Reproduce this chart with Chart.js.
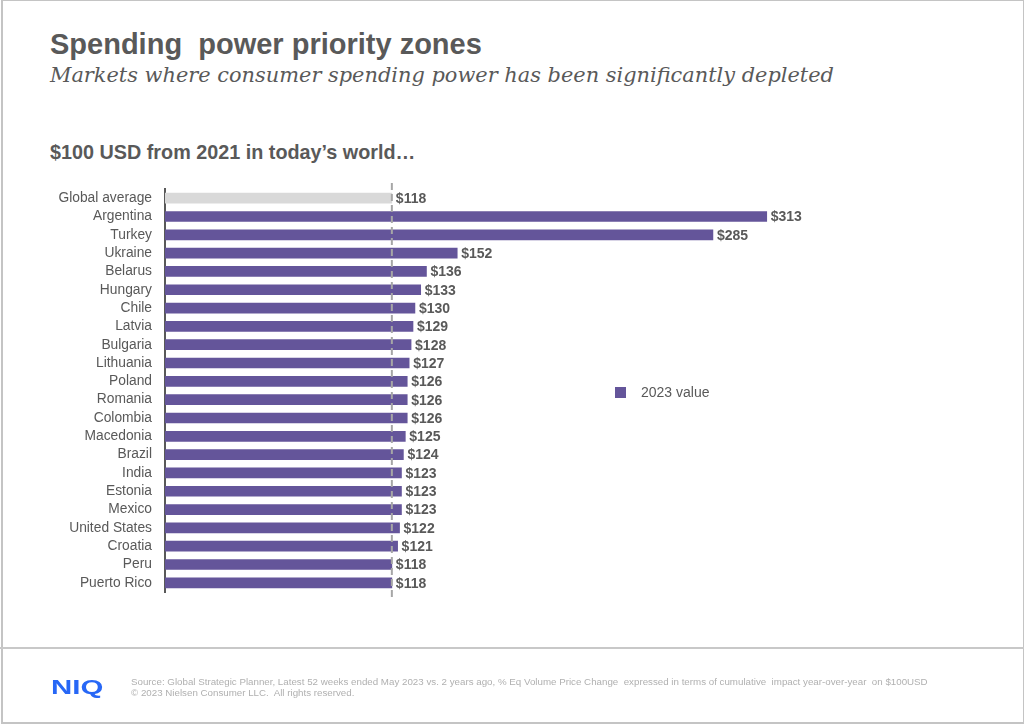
<!DOCTYPE html>
<html>
<head>
<meta charset="utf-8">
<script src="https://cdn.jsdelivr.net/npm/chart.js@4.4.0/dist/chart.umd.min.js"></script>
<style>
  body { margin: 0; background: #fff; }
  #page { position: relative; width: 1024px; height: 724px; overflow: hidden; font-family: "Liberation Sans", Arial, sans-serif; color: #595959; }
  #frame { position: absolute; left: 1px; top: 0; width: 1020px; height: 721px; border: 1px solid #c4c4c4; border-width: 1px 2px 2px 2px; }
  #sep { position: absolute; left: 0; top: 647px; width: 1024px; height: 2px; background: #c8c8c8; }
  .txt { position: absolute; white-space: pre; line-height: 1; }
  #title { left: 50px; top: 30px; font-size: 29px; font-weight: bold; }
  #subtitle { left: 50px; top: 65px; font-size: 20.9px; font-style: italic; font-family: "DejaVu Serif", Georgia, serif; }
  #heading { left: 50px; top: 143px; font-size: 19.8px; font-weight: bold; }
  #legend { position: absolute; left: 615px; top: 385px; font-size: 14px; line-height: 14px; }
  #legend span.box { display: inline-block; width: 11px; height: 11px; vertical-align: -1px; margin-right: 15px; }
  #logo { left: 51px; top: 676px; font-size: 21px; font-weight: bold; color: #2767f6; transform: scaleX(1.4); transform-origin: 0 0; }
  #source { left: 131px; top: 676px; font-size: 9.75px; line-height: 11px; color: #b0b0b0; }
  #c { position: absolute; left: 0; top: 0; }
</style>
</head>
<body>
<div id="page">
  <div id="frame"></div>
  <div id="sep"></div>
  <div class="txt" id="title">Spending  power priority zones</div>
  <div class="txt" id="subtitle">Markets where consumer spending power has been significantly depleted</div>
  <div class="txt" id="heading">$100 USD from 2021 in today’s world…</div>
  <canvas id="c" width="1024" height="724"></canvas>
  <div id="legend"></div>
  <div class="txt" id="logo">NIQ</div>
  <div class="txt" id="source">Source: Global Strategic Planner, Latest 52 weeks ended May 2023 vs. 2 years ago, % Eq Volume Price Change  expressed in terms of cumulative  impact year-over-year  on $100USD
© 2023 Nielsen Consumer LLC.  All rights reserved.</div>
</div>
<script>
// data
var markets = ['Global average', 'Argentina', 'Turkey', 'Ukraine', 'Belarus', 'Hungary', 'Chile', 'Latvia',
  'Bulgaria', 'Lithuania', 'Poland', 'Romania', 'Colombia', 'Macedonia', 'Brazil', 'India', 'Estonia',
  'Mexico', 'United States', 'Croatia', 'Peru', 'Puerto Rico'];
var values2023 = [118, 313, 285, 152, 136, 133, 130, 129, 128, 127, 126, 126, 126, 125, 124, 123, 123, 123, 122, 121, 118, 118];
var globalAvg = 118;
var seriesName = '2023 value';

var purple = '#64559a';
var avgGrey = '#d9d9d9';
var barColors = markets.map(function(m) { return m === 'Global average' ? avgGrey : purple; });

// dashed average line, drawn over the bars
var avgLine = {
  id: 'avgLine',
  afterDatasetsDraw: function(chart) {
    var ctx = chart.ctx;
    var x = chart.scales.x.getPixelForValue(globalAvg);
    ctx.save();
    ctx.strokeStyle = '#a6a6a6';
    ctx.lineWidth = 2;
    ctx.setLineDash([7, 4]);
    ctx.beginPath();
    ctx.moveTo(x, chart.chartArea.top - 6);
    ctx.lineTo(x, chart.chartArea.bottom + 5);
    ctx.stroke();
    ctx.restore();
  }
};

// "$nnn" labels at bar ends
var valueLabels = {
  id: 'valueLabels',
  afterDraw: function(chart) {
    var ctx = chart.ctx;
    var meta = chart.getDatasetMeta(0);
    ctx.save();
    ctx.font = 'bold 14px "Liberation Sans", Arial, sans-serif';
    ctx.fillStyle = '#595959';
    ctx.textBaseline = 'middle';
    meta.data.forEach(function(bar, i) {
      ctx.fillText('$' + values2023[i], bar.x + 4, bar.y + 1);
    });
    ctx.restore();
  }
};

var myChart = new Chart(document.getElementById('c').getContext('2d'), {
  type: 'bar',
  data: {
    labels: markets,
    datasets: [{
      label: seriesName,
      data: values2023,
      backgroundColor: barColors,
      barThickness: 10
    }]
  },
  options: {
    indexAxis: 'y',
    responsive: false,
    animation: false,
    layout: { padding: { top: 189, bottom: 132, left: 0, right: 90 } },
    scales: {
      x: { display: false, min: 0, max: 400 },
      y: {
        afterFit: function(scale) { scale.width = 165; },
        grid: { display: false, drawTicks: false },
        border: { display: true, color: '#595959', width: 2 },
        ticks: {
          autoSkip: false,
          padding: 13,
          color: '#595959',
          font: { family: '"Liberation Sans", Arial, sans-serif', size: 13.8 }
        }
      }
    },
    plugins: {
      legend: { display: false },
      tooltip: { enabled: false }
    }
  },
  plugins: [avgLine, valueLabels]
});

document.getElementById('legend').innerHTML =
  '<span class="box" style="background:' + purple + '"></span>' + seriesName;
</script>
</body>
</html>
